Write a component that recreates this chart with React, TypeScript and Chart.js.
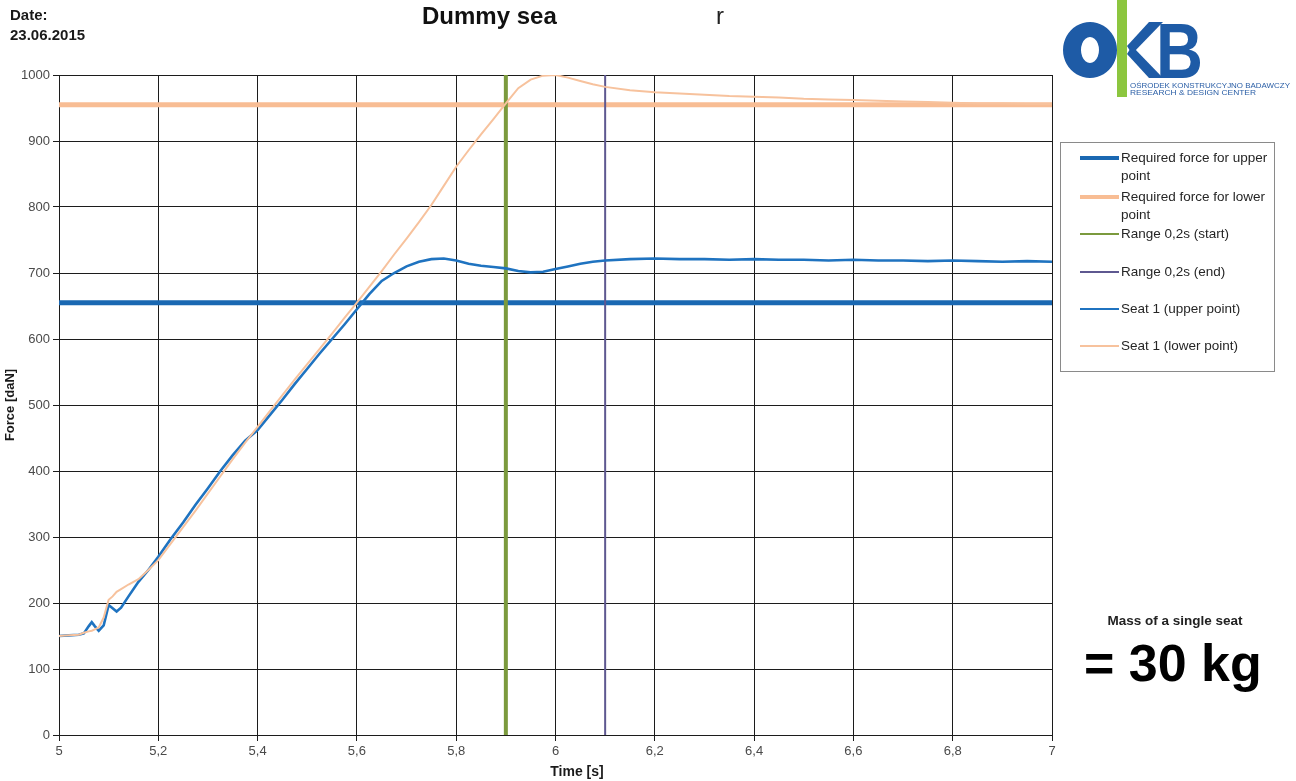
import React, { useEffect, useRef } from 'react';
import { Chart, registerables } from 'chart.js';

Chart.register(...registerables);

// Time samples [s] for the measured seat forces
const seatTime = [
  5.0, 5.02, 5.04, 5.05, 5.06, 5.066, 5.072, 5.08, 5.09, 5.1, 5.108, 5.116, 5.125, 5.14, 5.16, 5.18, 5.2,
  5.225, 5.25, 5.275, 5.3, 5.325, 5.35, 5.375, 5.4, 5.425, 5.45, 5.475, 5.5, 5.525, 5.55, 5.575, 5.6,
  5.625, 5.65, 5.675, 5.7, 5.725, 5.75, 5.775, 5.8, 5.825, 5.85, 5.875, 5.9, 5.925, 5.95, 5.975, 6.0,
  6.025, 6.05, 6.075, 6.1,
  6.15, 6.2, 6.25, 6.3, 6.35, 6.4, 6.45, 6.5, 6.55, 6.6, 6.65, 6.7, 6.75, 6.8, 6.85, 6.9, 6.95, 7.0,
];

// Seat 1, upper point [daN]
const seatUpper = [
  150, 151, 152, 154, 165, 171, 165, 158, 166, 197, 192, 187, 193, 210, 232, 250, 270,
  297, 322, 349, 374, 400, 424, 446, 462, 485, 508, 532, 555, 578, 600, 622, 645,
  668, 688, 700, 710, 717, 721, 722, 719, 714, 711, 709, 707, 703, 701, 702, 706,
  710, 714, 717, 719,
  721, 722, 721, 721, 720, 721, 720, 720, 719, 720, 719, 719, 718, 719, 718, 717, 718, 717,
];

// Seat 1, lower point [daN]
const seatLower = [
  150, 151, 152, 155, 157, 158, 160, 163, 178, 205, 210, 217, 221, 228, 236, 250, 265,
  290, 315, 340, 366, 392, 418, 443, 467, 491, 515, 539, 562, 585, 608, 632, 655,
  679, 703, 728, 752, 777, 803, 832, 861, 886, 910, 933, 957, 980, 993, 999, 1000,
  996, 991, 986, 982,
  977, 974, 972, 970, 968, 967, 966, 964, 963, 962, 961, 960, 959, 958, 957, 957, 956, 956,
];

// Required force levels [daN] and the 0.2 s evaluation window [s]
const requiredUpper = 655;
const requiredLower = 955;
const rangeStart = 5.9;
const rangeEnd = 6.1;

// Axis ranges
const timeMin = 5;
const timeMax = 7;
const timeStep = 0.2;
const forceMin = 0;
const forceMax = 1000;
const forceStep = 100;

const seriesNames = [
  'Required force for upper point',
  'Required force for lower point',
  'Range 0,2s (start)',
  'Range 0,2s (end)',
  'Seat 1 (upper point)',
  'Seat 1 (lower point)',
];
const seriesColors = ['#1a68b2', '#f8bd94', '#7b9a3d', '#5e5890', '#1f73c0', '#f7c29d'];
const seriesWidths = [5, 5, 4, 2, 2.6, 2];
const legendWidths = [4, 4, 2.5, 2.5, 2.5, 2.5];
const legendRows = [158, 197, 234, 272, 309, 346];

const FONT = '"Liberation Sans", Arial, sans-serif';

const fmtComma = (v: number) => String(Math.round(v * 10) / 10).replace('.', ',');

function buildDatasets() {
  const seatUpperPts = seatTime.map((t, i) => ({ x: t, y: seatUpper[i] }));
  const seatLowerPts = seatTime.map((t, i) => ({ x: t, y: seatLower[i] }));
  const pointSets = [
    [{ x: timeMin, y: requiredUpper }, { x: timeMax, y: requiredUpper }],
    [{ x: timeMin, y: requiredLower }, { x: timeMax, y: requiredLower }],
    [{ x: rangeStart, y: forceMin }, { x: rangeStart, y: forceMax }],
    [{ x: rangeEnd, y: forceMin }, { x: rangeEnd, y: forceMax }],
    seatUpperPts,
    seatLowerPts,
  ];
  return pointSets.map((data, i) => ({
    label: seriesNames[i],
    data,
    borderColor: seriesColors[i],
    backgroundColor: seriesColors[i],
    borderWidth: seriesWidths[i],
    pointRadius: 0,
    tension: 0,
    fill: false,
    order: seriesNames.length - i,
  }));
}

function ForceChart() {
  const ref = useRef<HTMLCanvasElement | null>(null);

  useEffect(() => {
    if (!ref.current) return;
    const gridColor = '#1c1c1c';
    const chart = new Chart(ref.current, {
      type: 'line',
      data: { datasets: buildDatasets() as any },
      options: {
        animation: false,
        responsive: false,
        maintainAspectRatio: false,
        layout: { padding: { left: 0, top: 75, right: 244, bottom: 0 } },
        plugins: {
          legend: { display: false },
          tooltip: { enabled: false },
        },
        scales: {
          x: {
            type: 'linear',
            min: timeMin,
            max: timeMax,
            ticks: {
              stepSize: timeStep,
              callback: (v: any) => fmtComma(Number(v)),
              color: '#4a4a4a',
              font: { family: FONT, size: 13 },
              padding: 3,
              maxRotation: 0,
            },
            grid: { color: gridColor, lineWidth: 1, tickLength: 6, drawTicks: true },
            border: { display: true, color: gridColor, width: 1 },
            afterFit: (s: any) => {
              s.height = 46;
            },
          },
          y: {
            type: 'linear',
            min: forceMin,
            max: forceMax,
            ticks: {
              stepSize: forceStep,
              callback: (v: any) => String(Math.round(Number(v))),
              color: '#4a4a4a',
              font: { family: FONT, size: 13 },
              padding: 3,
            },
            grid: { color: gridColor, lineWidth: 1, tickLength: 6, drawTicks: true },
            border: { display: true, color: gridColor, width: 1 },
            title: {
              display: true,
              text: 'Force [daN]',
              color: '#1a1a1a',
              font: { family: FONT, size: 13, weight: 'bold' },
              padding: { top: 3, bottom: 0 },
            },
            afterFit: (s: any) => {
              s.width = 59;
            },
          },
        },
      } as any,
    });
    return () => chart.destroy();
  }, []);

  return (
    <canvas
      ref={ref}
      width={1296}
      height={781}
      style={{ position: 'absolute', left: 0, top: 0, width: 1296, height: 781 }}
    />
  );
}

function Logo() {
  return (
    <svg
      width={246}
      height={110}
      viewBox="0 0 246 110"
      style={{ position: 'absolute', left: 1050, top: 0 }}
    >
      {/* O */}
      <path
        d="M40 22 a27 28 0 1 0 0.01 0 Z M40 37 a9 13 0 1 1 -0.01 0 Z"
        fill="#1e5ba6"
        fillRule="evenodd"
      />
      {/* green stem */}
      <rect x={67} y={0} width={10} height={97} fill="#8cc63f" />
      {/* K arms */}
      <polygon points="77,46 99,22 113,22 82,54" fill="#1e5ba6" />
      <polygon points="82,46 113,78 99,78 77,54" fill="#1e5ba6" />
      {/* B */}
      <text
        x={106}
        y={78}
        fontFamily={FONT}
        fontWeight="bold"
        fontSize={77}
        fill="#1e5ba6"
        textLength={47}
        lengthAdjust="spacingAndGlyphs"
      >
        B
      </text>
      <text x={80} y={88} fontFamily={FONT} fontSize={6.3} fill="#2a5ea6" textLength={160} lengthAdjust="spacingAndGlyphs">
        OŚRODEK KONSTRUKCYJNO BADAWCZY
      </text>
      <text x={80} y={95} fontFamily={FONT} fontSize={6.3} fill="#2a5ea6" textLength={126} lengthAdjust="spacingAndGlyphs">
        RESEARCH &amp; DESIGN CENTER
      </text>
    </svg>
  );
}

function Legend() {
  return (
    <>
      <div
        style={{
          position: 'absolute',
          left: 1060,
          top: 142,
          width: 215,
          height: 230,
          border: '1px solid #8a8a8a',
          boxSizing: 'border-box',
        }}
      />
      {seriesNames.map((name, i) => (
        <React.Fragment key={name}>
          <div
            style={{
              position: 'absolute',
              left: 1080,
              top: legendRows[i] - legendWidths[i] / 2,
              width: 39,
              height: legendWidths[i],
              background: seriesColors[i],
            }}
          />
          <div
            style={{
              position: 'absolute',
              left: 1121,
              top: legendRows[i] - 9,
              width: 152,
              fontFamily: FONT,
              fontSize: 13.5,
              lineHeight: '18px',
              color: '#262626',
            }}
          >
            {name}
          </div>
        </React.Fragment>
      ))}
    </>
  );
}

export default function App() {
  return (
    <div
      style={{
        position: 'fixed',
        left: 0,
        top: 0,
        width: 1296,
        height: 781,
        background: '#ffffff',
        overflow: 'hidden',
        fontFamily: FONT,
      }}
    >
      <ForceChart />
      <div style={{ position: 'absolute', left: 10, top: 5, fontSize: 15, fontWeight: 'bold', lineHeight: '20px', color: '#1a1a1a' }}>
        Date:
        <br />
        23.06.2015
      </div>
      <div style={{ position: 'absolute', left: 422, top: 3, fontSize: 24, fontWeight: 'bold', lineHeight: '26px', color: '#111' }}>
        Dummy sea
      </div>
      <div style={{ position: 'absolute', left: 716, top: 3, fontSize: 24, fontWeight: 'normal', lineHeight: '26px', color: '#222' }}>
        r
      </div>
      <div style={{ position: 'absolute', left: 0, top: 762, width: 1154, textAlign: 'center', fontSize: 14, fontWeight: 'bold', lineHeight: '18px', color: '#1a1a1a' }}>
        Time [s]
      </div>
      <Logo />
      <Legend />
      <div style={{ position: 'absolute', left: 1095, top: 612, width: 160, textAlign: 'center', fontSize: 13.5, fontWeight: 'bold', lineHeight: '18px', color: '#222' }}>
        Mass of a single seat
      </div>
      <div style={{ position: 'absolute', left: 1084, top: 637, fontSize: 52, fontWeight: 'bold', lineHeight: '52px', color: '#000', whiteSpace: 'nowrap' }}>
        = 30 kg
      </div>
    </div>
  );
}
